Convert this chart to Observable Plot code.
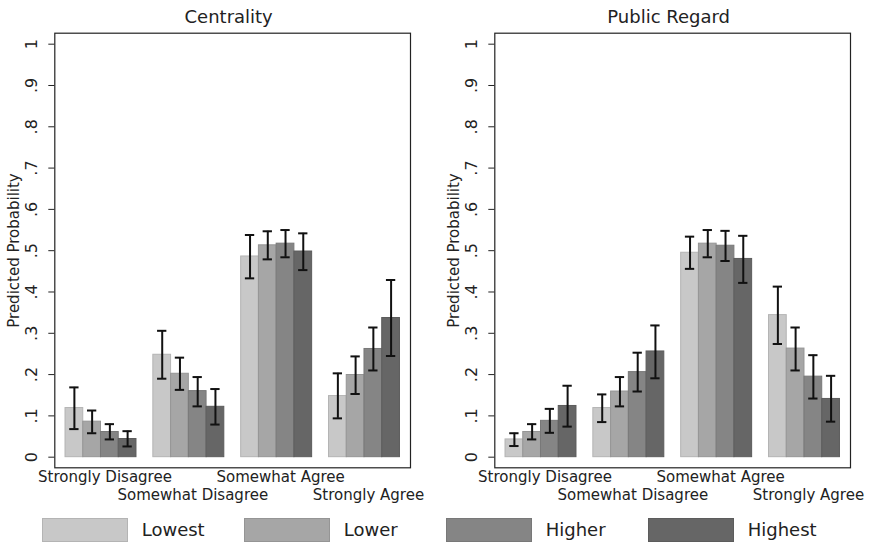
<!DOCTYPE html>
<html>
<head>
<meta charset="utf-8">
<script src="https://cdn.jsdelivr.net/npm/d3@7"></script>
<script src="https://cdn.jsdelivr.net/npm/@observablehq/plot@0.6"></script>
<style>
  html, body { margin: 0; background: #fff; overflow: hidden; }
  #chart { position: relative; width: 869px; height: 544px; font-family: "DejaVu Sans", sans-serif; color: #222; }
  .panel { position: absolute; top: 0; }
  .panel svg { display: block; max-width: none; }
  .lg-item { position: absolute; top: 517.7px; height: 24px; }
  .lg-swatch { position: absolute; left: 0; top: 0; width: 86.6px; height: 24px; box-sizing: border-box; }
  .lg-label { position: absolute; left: 100px; top: 0; line-height: 24px; font-size: 18px; white-space: nowrap; }
</style>
</head>
<body>
<div id="chart"></div>
<script>
// ---- data ----
const categories = ["Strongly Disagree", "Somewhat Disagree", "Somewhat Agree", "Strongly Agree"];
const levels = ["Lowest", "Lower", "Higher", "Highest"];
const levelColors = ["#c8c8c8", "#a6a6a6", "#858585", "#666666"];
const yTicks = [0, 0.1, 0.2, 0.3, 0.4, 0.5, 0.6, 0.7, 0.8, 0.9, 1];
const yTickLabels = ["0", ".1", ".2", ".3", ".4", ".5", ".6", ".7", ".8", ".9", "1"];
const panelTitles = ["Centrality", "Public Regard"];

// rows = categories, columns = levels
const centralityMean = [
  [0.119, 0.086, 0.061, 0.044],
  [0.248, 0.202, 0.160, 0.122],
  [0.486, 0.513, 0.517, 0.498],
  [0.148, 0.199, 0.262, 0.337]
];
const centralityLow = [
  [0.068, 0.058, 0.043, 0.026],
  [0.190, 0.163, 0.123, 0.079],
  [0.433, 0.479, 0.484, 0.453],
  [0.094, 0.153, 0.210, 0.245]
];
const centralityHigh = [
  [0.169, 0.113, 0.080, 0.063],
  [0.306, 0.241, 0.194, 0.165],
  [0.538, 0.547, 0.550, 0.542],
  [0.203, 0.244, 0.314, 0.429]
];
const regardMean = [
  [0.043, 0.061, 0.088, 0.124],
  [0.119, 0.159, 0.206, 0.256],
  [0.495, 0.517, 0.512, 0.480],
  [0.344, 0.263, 0.195, 0.141]
];
const regardLow = [
  [0.027, 0.043, 0.059, 0.074],
  [0.085, 0.123, 0.159, 0.191],
  [0.456, 0.484, 0.475, 0.422],
  [0.274, 0.210, 0.142, 0.086]
];
const regardHigh = [
  [0.058, 0.080, 0.117, 0.173],
  [0.152, 0.194, 0.253, 0.319],
  [0.534, 0.550, 0.548, 0.536],
  [0.413, 0.314, 0.247, 0.197]
];

// ---- drawing ----
const barW = 0.202;   // width of one bar in category units
const capHalf = 0.053; // half width of error-bar caps

function panel(title, mean, low, high, width, marginRight) {
  const rows = [];
  categories.forEach((c, i) => levels.forEach((l, j) => rows.push({
    cat: c, i, level: l, j, mean: mean[i][j], low: low[i][j], high: high[i][j],
    center: i + (j - 1.5) * barW
  })));
  const barMarks = levels.map((l, j) => Plot.rectY(rows.filter(d => d.j === j), {
    x1: d => d.center - barW / 2,
    x2: d => d.center + barW / 2,
    y1: 0,
    y2: "mean",
    fill: levelColors[j],
    stroke: d3.color(levelColors[j]).darker(0.3).formatHex(),
    strokeWidth: 1
  }));
  return Plot.plot({
    width,
    height: 505,
    marginLeft: 54.3,
    marginRight,
    marginTop: 32.7,
    marginBottom: 37.7,
    style: { fontFamily: "DejaVu Sans", fontSize: "15px", background: "white", color: "#222" },
    x: { domain: [-0.526, 3.524], axis: null },
    y: { domain: [-0.0257, 1.0266] },
    marks: [
      ...barMarks,
      Plot.ruleX(rows, { x: "center", y1: "low", y2: "high", stroke: "#111", strokeWidth: 2 }),
      Plot.ruleY(rows, { y: "high", x1: d => d.center - capHalf, x2: d => d.center + capHalf, stroke: "#111", strokeWidth: 2 }),
      Plot.ruleY(rows, { y: "low", x1: d => d.center - capHalf, x2: d => d.center + capHalf, stroke: "#111", strokeWidth: 2 }),
      Plot.frame({ stroke: "#222", strokeWidth: 1.2 }),
      Plot.axisY({
        ticks: yTicks,
        tickFormat: d => yTickLabels[yTicks.indexOf(d)] ?? "",
        tickSize: 6,
        tickPadding: 12,
        tickRotate: -90,
        fontSize: 16,
        stroke: "#222",
        label: null
      }),
      Plot.axisY({
        ticks: [],
        label: "Predicted Probability",
        labelAnchor: "center",
        labelArrow: "none",
        labelOffset: 46,
        fontSize: 15
      }),
      Plot.text([0, 2], { x: d => d, text: d => categories[d], frameAnchor: "bottom", dy: 9.7, dx: 4, lineAnchor: "middle", fontSize: 15, fill: "#222" }),
      Plot.text([1, 3], { x: d => d, text: d => categories[d], frameAnchor: "bottom", dy: 27.4, dx: 4, lineAnchor: "middle", fontSize: 15, fill: "#222" }),
      Plot.text([title], { frameAnchor: "top", dy: -16, dx: -4, lineAnchor: "middle", fontSize: 18, fill: "#222" })
    ]
  });
}

const chart = document.getElementById("chart");
const p1 = document.createElement("div");
p1.className = "panel"; p1.style.left = "0px"; p1.style.width = "440px";
p1.appendChild(panel(panelTitles[0], centralityMean, centralityLow, centralityHigh, 440, 30));
chart.appendChild(p1);
const p2 = document.createElement("div");
p2.className = "panel"; p2.style.left = "440px"; p2.style.width = "429px";
p2.appendChild(panel(panelTitles[1], regardMean, regardLow, regardHigh, 429, 19));
chart.appendChild(p2);

// legend below the panels
levels.forEach((l, j) => {
  const item = document.createElement("div");
  item.className = "lg-item";
  item.style.left = (41.7 + 202 * j) + "px";
  const sw = document.createElement("div");
  sw.className = "lg-swatch";
  sw.style.background = levelColors[j];
  sw.style.border = "1px solid " + d3.color(levelColors[j]).darker(0.3).formatHex();
  const lab = document.createElement("div");
  lab.className = "lg-label";
  lab.textContent = l;
  item.appendChild(sw);
  item.appendChild(lab);
  chart.appendChild(item);
});
</script>
</body>
</html>
